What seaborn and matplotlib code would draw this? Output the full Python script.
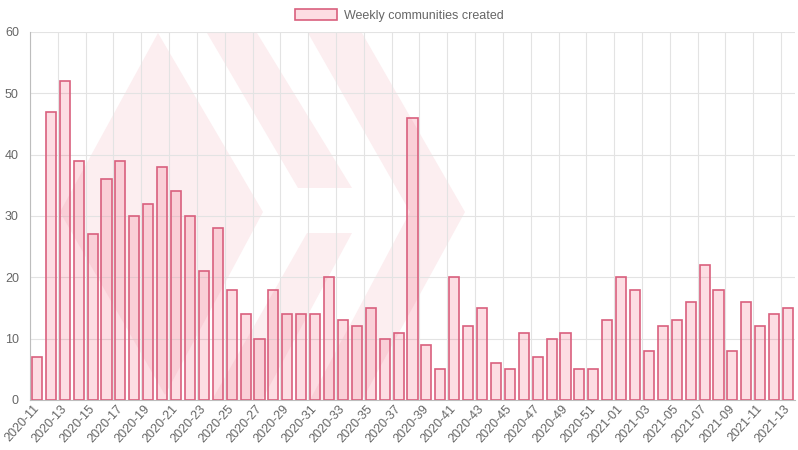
import seaborn as sns
import pandas as pd
import numpy as np
import matplotlib.pyplot as plt
from matplotlib.patches import Patch, Polygon

# semanas ISO (2020-11 .. 2021-13) y comunidades creadas cada semana
weeks = ["2020-%02d" % w for w in range(11, 53)] + ["2021-%02d" % w for w in range(1, 14)]
counts = [7, 47, 52, 39, 27, 36, 39, 30, 32, 38, 34, 30, 21, 28, 18, 14, 10, 18,
          14, 14, 14, 20, 13, 12, 15, 10, 11, 46, 9, 5, 20, 12, 15, 6, 5, 11, 7,
          10, 11, 5, 5, 13, 20, 18, 8, 12, 13, 16, 22, 18, 8, 16, 12, 14, 15]

df = pd.DataFrame({"week": weeks, "count": counts})

sns.set_style("white")
plt.rcParams["font.family"] = ["Liberation Sans", "DejaVu Sans"]

fill = (245 / 255, 85 / 255, 115 / 255, 0.2)
edge = "#d9607e"
grey = "#666666"

fig = plt.figure(figsize=(7.98, 4.5), dpi=100)
ax = fig.add_axes([30 / 798, 50 / 450, 765 / 798, 368 / 450])

# marca de agua (logo de fondo), en coordenadas de pixel del grafico
def px(points):
    return [((x - 30) / 765, (400 - y) / 368) for x, y in points]

wm = "#fceef0"
shapes = [
    [(60, 212), (158, 33), (263, 212), (165, 395)],
    [(207, 33), (257, 33), (352, 188), (298, 188)],
    [(307, 233), (352, 233), (262, 400), (212, 400)],
    [(308, 33), (362, 33), (465, 212), (362, 400), (310, 400), (410, 212)],
]
for s in shapes:
    ax.add_patch(Polygon(px(s), closed=True, transform=ax.transAxes,
                         facecolor=wm, edgecolor="none", zorder=0.2))

sns.barplot(data=df, x="week", y="count", color="#fddde3", saturation=1,
            width=0.72, edgecolor=edge, linewidth=1.2, ax=ax, zorder=3)
for bar in ax.containers[0]:
    bar.set_facecolor(fill)
    bar.set_edgecolor(edge)

n = len(weeks)
ax.set_xlim(-0.5, n - 0.5)
ax.set_ylim(0, 60)
ax.set_yticks(range(0, 61, 10))

# lineas de tick/grid en el borde izquierdo de cada dos barras
ax.set_xticks([i - 0.5 for i in range(0, n, 2)])
ax.set_xticklabels([])
ax.set_xticks(list(range(0, n, 2)), minor=True)
ax.set_xticklabels(weeks[::2], minor=True, rotation=48, ha="right",
                   va="center", rotation_mode="anchor", color=grey, fontsize=9)
ax.tick_params(axis="x", which="minor", length=0, pad=5)
ax.tick_params(axis="x", which="major", length=7, color="#d0d0d0", width=0.8)
ax.tick_params(axis="y", length=6, color="#d0d0d0", width=0.8, labelsize=9,
               labelcolor=grey, pad=2)

ax.grid(True, which="major", color="#e3e3e3", linewidth=0.8)
ax.set_axisbelow(True)
for side in ["top", "right"]:
    ax.spines[side].set_visible(False)
for side in ["left", "bottom"]:
    ax.spines[side].set_color("#bdbdbd")
    ax.spines[side].set_linewidth(0.8)
ax.set_xlabel("")
ax.set_ylabel("")

handle = Patch(facecolor="#fddde3", edgecolor=edge, linewidth=1.2)
fig.legend([handle], ["Weekly communities created"], loc="upper center",
           bbox_to_anchor=(0.5, 1.005), frameon=False, fontsize=9,
           handlelength=3.4, handleheight=0.95, handletextpad=0.5,
           labelcolor=grey)

fig.savefig("out.png", dpi=100)
